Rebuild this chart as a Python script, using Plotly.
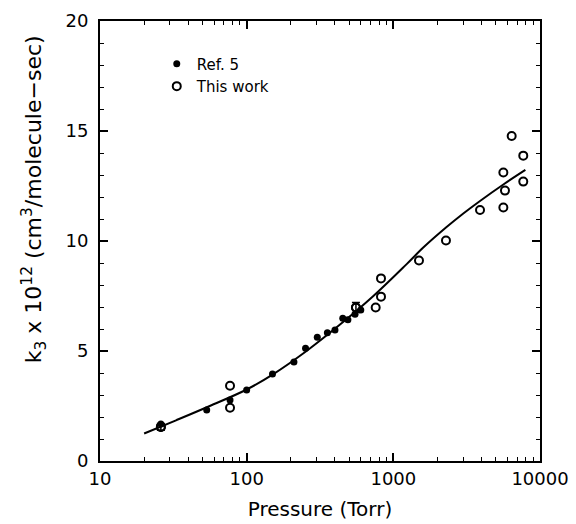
import plotly.graph_objects as go

# Ref. 5 (filled circles)
ref5_p = [26, 53.4, 77, 100, 150, 210, 252, 303, 355, 400, 452, 490, 548, 600]
ref5_k = [1.68, 2.32, 2.77, 3.23, 3.95, 4.5, 5.12, 5.62, 5.83, 5.95, 6.49, 6.42, 6.67, 6.86]

# This work (open circles)
work_p = [26, 77, 77, 556, 758, 824, 824, 1496, 2285, 3900, 5625, 5625, 5770, 6410, 7690, 7690]
work_k = [1.55, 3.42, 2.42, 6.98, 6.98, 7.47, 8.30, 9.11, 10.02, 11.41, 11.52, 13.11, 12.29, 14.77, 13.88, 12.70]

# This work points that carry error bars
err_p = [26, 556]
err_k = [1.55, 6.98]
err_v = [0.15, 0.23]

# Fitted curve
fit_p = [20, 33, 56, 100, 152, 256, 433, 731, 1233, 1600, 2285, 3000, 3900, 5625, 7950]
fit_k = [1.25, 1.85, 2.5, 3.25, 3.95, 5.0, 6.2, 7.5, 8.95, 9.7, 10.61, 11.25, 11.82, 12.57, 13.23]

x_ticks = [10, 100, 1000, 10000]
x_minor = [m * d for d in (10, 100, 1000) for m in range(2, 10)]
y_ticks = [0, 5, 10, 15, 20]

FONT = "DejaVu Sans"

fig = go.Figure()
fig.add_trace(go.Scatter(x=fit_p, y=fit_k, mode="lines", line=dict(color="black", width=2, shape="spline"),
                         showlegend=False, hoverinfo="skip"))
fig.add_trace(go.Scatter(x=err_p, y=err_k, mode="markers", showlegend=False,
                         marker=dict(symbol="circle-open", size=8, color="black", line=dict(width=2)),
                         error_y=dict(type="data", array=err_v, color="black", thickness=1.5, width=4)))
fig.add_trace(go.Scatter(x=ref5_p, y=ref5_k, mode="markers", name="Ref. 5",
                         marker=dict(symbol="circle", size=7, color="black")))
fig.add_trace(go.Scatter(x=work_p, y=work_k, mode="markers", name="This work",
                         marker=dict(symbol="circle-open", size=8, color="black", line=dict(width=2))))

axis_common = dict(showline=True, linecolor="black", linewidth=2, mirror="ticks", ticks="inside",
                   tickcolor="black", tickwidth=1.5, ticklen=8, showgrid=False, zeroline=False,
                   automargin=False,
                   tickfont=dict(family=FONT, size=18, color="black"))

fig.update_xaxes(type="log", range=[1, 4], tickvals=x_ticks, ticktext=[str(v) for v in x_ticks],
                 minor=dict(tickmode="array", tickvals=x_minor, ticks="inside", ticklen=4, tickwidth=1.2,
                            tickcolor="black", showgrid=False),
                 title=dict(text="Pressure (Torr)", font=dict(family=FONT, size=20, color="black"), standoff=14),
                 **axis_common)
fig.update_yaxes(range=[0, 20], tickvals=y_ticks, ticktext=[str(v) for v in y_ticks],
                 minor=dict(ticks="inside", ticklen=4, tickwidth=1.2, tickcolor="black", dtick=1, showgrid=False),
                 ticklabelstandoff=6,
                 **axis_common)

fig.add_annotation(text="k<sub>3</sub> x 10<sup>12</sup> (cm<sup>3</sup>/molecule\u2212sec)",
                   xref="paper", yref="paper", x=-0.15, y=0.595, textangle=-90, showarrow=False,
                   xanchor="center", yanchor="middle", font=dict(family=FONT, size=22, color="black"))

fig.update_layout(width=576, height=524, margin=dict(l=100, r=36, t=21, b=63),
                  paper_bgcolor="white", plot_bgcolor="white",
                  legend=dict(x=0.129, y=0.94, xanchor="left", yanchor="top", bgcolor="rgba(0,0,0,0)",
                              font=dict(family=FONT, size=15, color="black"), tracegroupgap=0, itemwidth=30))

fig.write_html("out.html")
